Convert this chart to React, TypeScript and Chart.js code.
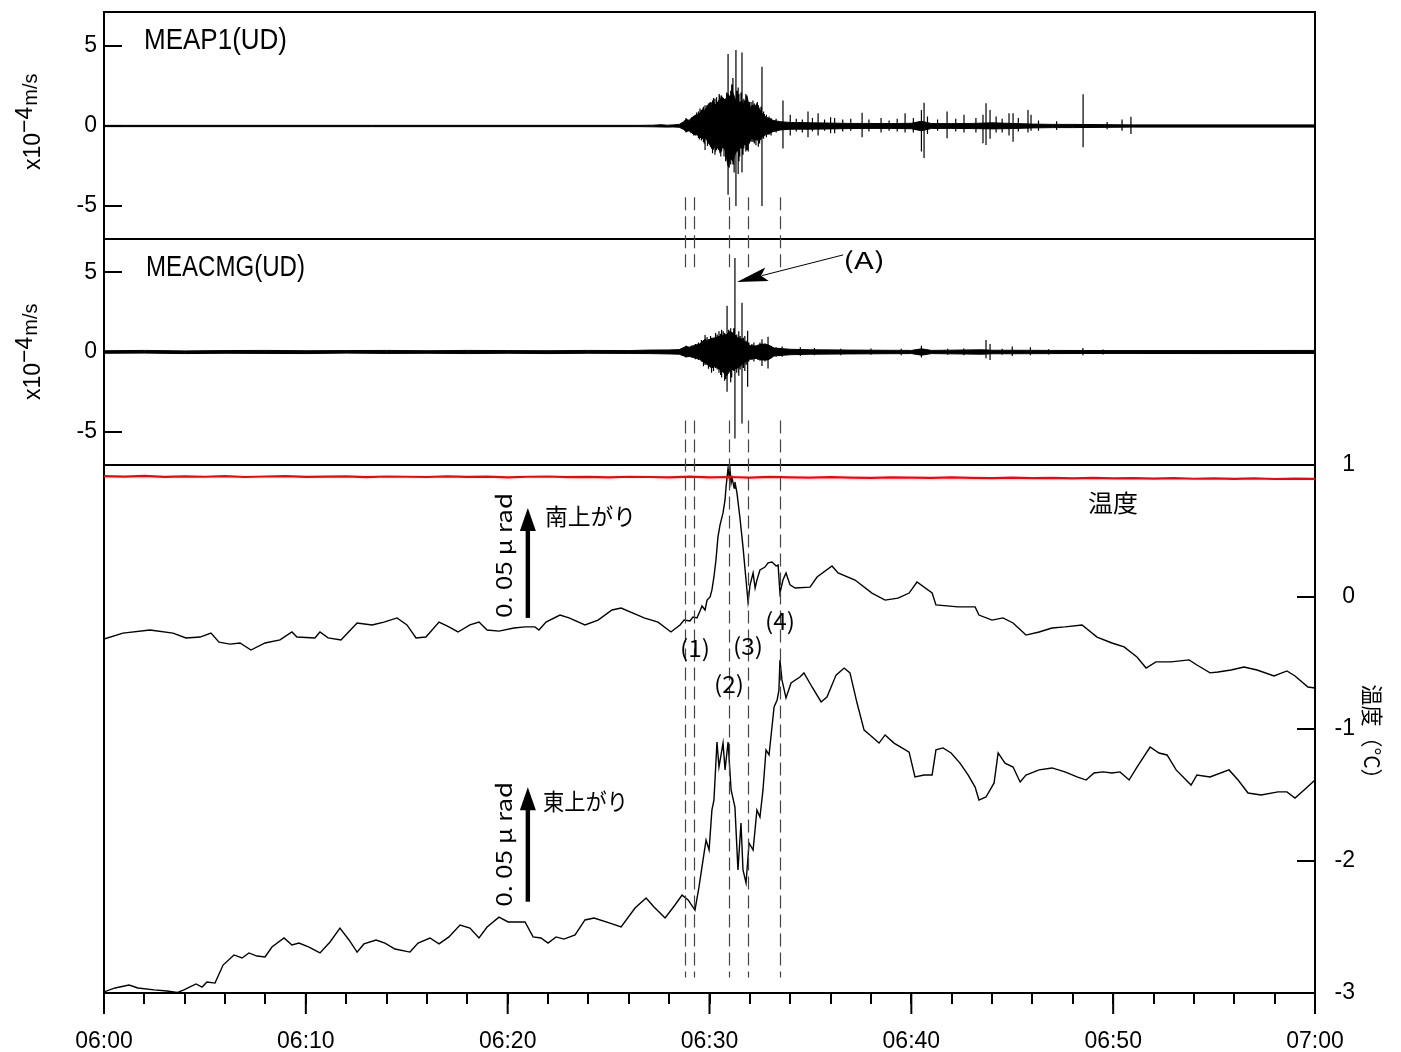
import React, { useEffect, useRef } from "react";
import { Chart, registerables } from "chart.js";

Chart.register(...registerables);

const W = 1401;
const H = 1052;

// ---------- axes ----------
const xTicks = [0, 2, 4, 6, 8, 10, 12, 14, 16, 18, 20, 22, 24, 26, 28, 30, 32, 34, 36, 38, 40, 42, 44, 46, 48, 50, 52, 54, 56, 58, 60];
const xMajor = [0, 10, 20, 30, 40, 50, 60];
const xMajorLabels = ["06:00", "06:10", "06:20", "06:30", "06:40", "06:50", "07:00"];
const seisTicks = [-5, 0, 5];
const tempTicks = [1, 0, -1, -2, -3];

// ---------- MEAP1(UD) : envelope [minute, max, min] (x10^-4 m/s) ----------
const s1Env: number[][] = [
  [0, 0.04, -0.04], [26.5, 0.04, -0.04], [27.2, 0.05, -0.05], [27.6, 0.08, -0.06], [27.9, 0.05, -0.07],
  [28.2, 0.07, -0.06], [28.5, 0.1, -0.08], [28.7, 0.25, -0.2], [28.84, 0.42, -0.35], [29.0, 0.35, -0.3],
  [29.19, 0.6, -0.5], [29.39, 0.69, -0.56], [29.53, 0.8, -0.7], [29.68, 1.1, -0.8], [29.8, 0.9, -0.7],
  [29.88, 1.3, -0.9], [30.03, 1.2, -1.2], [30.17, 1.6, -1.5], [30.27, 1.3, -1.2], [30.42, 1.5, -1.4],
  [30.52, 1.7, -1.6], [30.67, 1.75, -1.3], [30.77, 1.6, -1.5], [30.92, 2.0, -2.5], [31.01, 1.8, -2.0],
  [31.16, 2.1, -2.2], [31.26, 1.6, -1.8], [31.36, 1.8, -1.5], [31.51, 1.4, -1.2], [31.61, 1.6, -1.3],
  [31.76, 1.2, -1.0], [31.86, 1.8, -1.3], [32.01, 1.1, -0.9], [32.11, 1.3, -0.8], [32.25, 1.2, -0.9],
  [32.35, 1.4, -0.8], [32.5, 1.0, -0.9], [32.6, 0.8, -0.7], [32.75, 0.58, -0.56], [32.9, 0.5, -0.5],
  [33.0, 0.45, -0.45], [33.15, 0.35, -0.35], [33.5, 0.27, -0.25], [34.0, 0.22, -0.2], [35.0, 0.2, -0.2],
  [36.0, 0.18, -0.18], [37.0, 0.16, -0.16], [38.0, 0.16, -0.15], [39.0, 0.15, -0.15], [40.0, 0.17, -0.17],
  [40.5, 0.3, -0.3], [41.0, 0.15, -0.15], [42.0, 0.15, -0.15], [43.0, 0.16, -0.16], [44.0, 0.2, -0.18],
  [45.0, 0.16, -0.16], [46.0, 0.12, -0.12], [47.0, 0.1, -0.1], [48.0, 0.1, -0.1], [49.0, 0.09, -0.09],
  [50.0, 0.08, -0.08], [51.0, 0.07, -0.07], [55.0, 0.07, -0.07], [60.0, 0.07, -0.07],
];
// spikes [minute, top, bottom]
const s1Spikes: number[][] = [
  [28.84, 0.5, -0.4], [28.9, 0.3, -0.25], [29.05, 0.45, -0.4], [29.12, 0.55, -0.35], [29.22, 0.5, -0.6],
  [29.3, 0.7, -0.6], [29.36, 0.85, -0.5], [29.45, 0.9, -0.75], [29.5, 0.6, -0.85], [29.53, 1.1, -0.6],
  [29.6, 1.0, -0.9], [29.65, 0.95, -0.7], [29.7, 1.2, -1.0], [29.74, 0.8, -1.1], [29.78, 1.3, -1.5],
  [29.84, 1.1, -0.8], [29.9, 0.9, -1.25], [29.95, 1.4, -1.1], [30.0, 1.45, -0.9], [30.05, 1.5, -1.3],
  [30.1, 1.0, -1.4], [30.15, 1.2, -1.7], [30.2, 1.75, -1.2], [30.27, 1.7, -1.8], [30.3, 1.1, -1.6],
  [30.35, 1.8, -1.5], [30.4, 1.4, -1.1], [30.45, 1.6, -1.3], [30.48, 2.0, -1.4], [30.52, 1.9, -1.7],
  [30.56, 1.3, -1.9], [30.6, 1.9, -1.6], [30.65, 1.8, -1.2], [30.72, 1.7, -1.9], [30.8, 1.5, -2.2],
  [30.85, 2.1, -1.5], [30.92, 4.5, -4.3], [30.98, 1.7, -2.6], [31.05, 2.2, -2.4], [31.1, 2.6, -1.8],
  [31.16, 3.0, -2.4], [31.22, 1.9, -2.9], [31.31, 4.75, -5.0], [31.37, 2.2, -1.6], [31.42, 2.4, -3.0],
  [31.46, 2.0, -2.2], [31.5, 1.5, -1.9], [31.56, 2.1, -1.4], [31.61, 4.6, -2.9], [31.66, 1.4, -1.8],
  [31.7, 1.7, -1.4], [31.75, 1.6, -1.2], [31.8, 2.0, -1.6], [31.86, 1.9, -1.5], [31.92, 1.3, -1.6],
  [31.98, 1.5, -1.1], [32.02, 1.2, -0.9], [32.06, 1.5, -1.0], [32.15, 1.6, -1.0], [32.22, 1.4, -1.1],
  [32.3, 1.1, -1.2], [32.37, 1.5, -0.9], [32.42, 1.3, -1.3], [32.48, 1.0, -1.1], [32.55, 1.2, -0.8],
  [32.6, 3.7, -5.0], [32.68, 0.9, -0.8], [32.72, 0.75, -0.6], [32.82, 0.7, -0.7], [32.95, 0.6, -0.55],
  [33.05, 0.5, -0.6], [33.3, 0.45, -0.4], [33.64, 1.6, -1.4], [34.0, 0.7, -0.6], [34.3, 0.45, -0.35],
  [34.6, 0.4, -0.4], [34.88, 0.9, -0.7], [35.1, 0.5, -0.35], [35.38, 0.8, -0.6], [35.7, 0.4, -0.3],
  [36.0, 0.55, -0.45], [36.2, 0.5, -0.45], [36.6, 0.4, -0.35], [37.0, 0.45, -0.3], [37.56, 0.83, -0.7],
  [37.9, 0.4, -0.35], [38.5, 0.5, -0.4], [38.9, 0.35, -0.3], [39.3, 0.45, -0.35], [39.69, 0.8, -0.4],
  [40.1, 0.5, -0.4], [40.5, 1.0, -1.6], [40.63, 1.46, -2.0], [40.8, 0.6, -0.5], [41.3, 0.4, -0.3],
  [41.77, 0.9, -0.77], [42.2, 0.45, -0.35], [42.61, 0.7, -0.4], [43.2, 0.5, -0.4], [43.55, 0.7, -1.08],
  [43.7, 1.42, -1.19], [43.9, 1.0, -0.8], [44.2, 0.6, -0.4], [44.5, 0.45, -0.4], [44.84, 0.8, -0.6],
  [45.04, 0.8, -0.98], [45.3, 0.5, -0.35], [45.78, 1.0, -0.4], [45.93, 0.7, -0.3], [46.3, 0.35, -0.3],
  [47.2, 0.3, -0.25], [48.51, 1.98, -1.33], [49.7, 0.25, -0.2], [50.44, 0.4, -0.3], [50.88, 0.58, -0.5],
];

// ---------- MEACMG(UD) ----------
const s2Env: number[][] = [
  [0, 0.08, -0.08], [2, 0.1, -0.07], [4, 0.07, -0.1], [6, 0.09, -0.08], [8, 0.1, -0.09], [10, 0.08, -0.1],
  [12, 0.09, -0.07], [14, 0.1, -0.09], [16, 0.08, -0.08], [18, 0.1, -0.1], [20, 0.09, -0.08], [22, 0.08, -0.1],
  [24, 0.1, -0.08], [26, 0.09, -0.09], [27, 0.12, -0.1], [28, 0.13, -0.12], [28.5, 0.15, -0.14],
  [28.84, 0.35, -0.3], [29.0, 0.3, -0.28], [29.2, 0.4, -0.35], [29.5, 0.5, -0.45], [29.78, 0.8, -0.7],
  [29.9, 0.7, -0.8], [30.1, 0.85, -1.0], [30.3, 0.9, -0.9], [30.5, 1.0, -1.1], [30.7, 1.05, -1.3],
  [30.85, 1.1, -1.5], [31.0, 1.3, -1.2], [31.15, 1.2, -1.1], [31.4, 0.9, -1.0], [31.6, 0.8, -0.8],
  [31.8, 0.6, -0.6], [32.0, 0.4, -0.45], [32.3, 0.38, -0.4], [32.6, 0.5, -0.5], [32.9, 0.45, -0.5],
  [33.2, 0.25, -0.25], [34, 0.17, -0.17], [35, 0.14, -0.14], [37, 0.12, -0.12], [40, 0.1, -0.1],
  [40.5, 0.2, -0.2], [41, 0.1, -0.1], [43.5, 0.14, -0.14], [44, 0.11, -0.11], [45, 0.11, -0.11],
  [47, 0.1, -0.1], [50, 0.09, -0.09], [55, 0.09, -0.1], [60, 0.1, -0.09],
];
const s2Spikes: number[][] = [
  [28.84, 0.4, -0.35], [28.95, 0.3, -0.3], [29.1, 0.4, -0.3], [29.3, 0.5, -0.45], [29.45, 0.6, -0.5],
  [29.6, 0.75, -0.6], [29.7, 0.7, -0.9], [29.78, 1.07, -0.82], [29.88, 0.95, -0.75], [29.95, 0.8, -1.05],
  [30.05, 1.0, -0.9], [30.1, 0.9, -1.3], [30.2, 0.85, -1.2], [30.3, 1.2, -1.0], [30.38, 1.1, -1.1],
  [30.47, 1.3, -1.3], [30.55, 1.15, -1.45], [30.6, 1.4, -1.6], [30.68, 1.3, -1.2], [30.75, 1.2, -1.8],
  [30.8, 1.0, -1.7], [30.87, 2.9, -2.5], [30.95, 1.4, -1.3], [31.05, 1.5, -1.9], [31.1, 1.2, -1.6],
  [31.2, 1.5, -1.2], [31.26, 5.9, -5.43], [31.35, 1.1, -1.3], [31.45, 1.3, -1.5], [31.52, 1.0, -1.1],
  [31.61, 3.1, -4.5], [31.68, 0.9, -1.0], [31.75, 1.0, -1.2], [31.82, 0.7, -0.8], [31.89, 1.34, -2.18],
  [31.95, 0.6, -0.6], [32.1, 0.5, -0.5], [32.2, 0.6, -0.6], [32.4, 0.45, -0.5], [32.5, 0.6, -0.55],
  [32.6, 0.8, -0.88], [32.75, 0.55, -0.6], [32.9, 0.96, -1.03], [33.05, 0.4, -0.4], [33.3, 0.3, -0.3],
  [33.6, 0.35, -0.3], [34.5, 0.3, -0.25], [35.2, 0.25, -0.2], [36.5, 0.2, -0.2], [38.0, 0.22, -0.18],
  [39.5, 0.2, -0.2], [40.5, 0.4, -0.35], [41.8, 0.2, -0.18], [42.6, 0.22, -0.2], [43.7, 0.75, -0.4],
  [43.9, 0.5, -0.5], [44.5, 0.2, -0.18], [45.0, 0.35, -0.25], [45.9, 0.3, -0.2], [46.8, 0.18, -0.15],
  [48.5, 0.25, -0.2], [49.5, 0.15, -0.15],
];

// ---------- temperature (°C), one value per minute ----------
const tempV = [
  0.915, 0.912, 0.917, 0.910, 0.914, 0.911, 0.916, 0.909, 0.913, 0.915, 0.910, 0.912, 0.914, 0.908, 0.913,
  0.911, 0.909, 0.914, 0.910, 0.912, 0.907, 0.911, 0.913, 0.908, 0.910, 0.906, 0.911, 0.909, 0.907, 0.912,
  0.906, 0.909, 0.905, 0.910, 0.906, 0.904, 0.908, 0.905, 0.903, 0.907, 0.904, 0.902, 0.906, 0.903, 0.901,
  0.905, 0.900, 0.903, 0.899, 0.902, 0.898, 0.901, 0.897, 0.900, 0.896, 0.899, 0.895, 0.898, 0.894, 0.897,
  0.895,
];

// ---------- tilt (nrad, arbitrary offset) [minute, value] ----------
const tiltNS: number[][] = [
  [0, 160.9], [0.94, 163.6], [2.28, 165.0], [3.42, 163.6], [4.06, 161.4], [4.76, 161.8], [5.3, 163.6],
  [5.7, 159.5], [6.24, 158.6], [6.74, 159.1], [7.28, 155.9], [7.98, 159.1], [8.72, 160.5], [9.31, 164.1],
  [9.56, 161.8], [10.45, 161.4], [10.7, 164.1], [11.1, 161.4], [11.74, 160.5], [12.54, 168.2], [13.28, 167.3],
  [13.87, 168.6], [14.52, 170.5], [15.01, 167.3], [15.46, 161.4], [15.95, 161.8], [16.6, 168.6], [17.09, 166.4],
  [17.54, 164.1], [18.13, 167.3], [18.58, 168.6], [18.98, 165.0], [19.57, 164.5], [20.31, 165.9], [20.86, 166.4],
  [21.35, 166.4], [21.55, 165.0], [21.9, 168.6], [22.59, 171.8], [23.04, 170.5], [23.83, 167.3], [24.48, 169.5],
  [25.17, 174.1], [25.62, 175.0], [26.21, 172.7], [26.76, 170.5], [27.45, 168.6], [28.09, 164.1], [28.54, 167.3],
  [28.74, 169.5], [29.03, 169.1], [29.18, 170.9], [29.38, 170.5], [29.53, 173.6], [29.63, 175.9], [29.78, 174.1],
  [29.88, 178.6], [30.03, 180.0], [30.12, 183.2], [30.22, 189.1], [30.32, 196.8], [30.42, 207.3], [30.52, 212.7],
  [30.67, 218.2], [30.77, 224.1], [30.82, 230.0], [30.92, 238.6], [30.97, 235.0], [31.02, 237.7], [31.07, 231.8],
  [31.12, 234.1], [31.22, 229.5], [31.26, 232.3], [31.36, 227.3], [31.51, 215.9], [31.66, 202.7], [31.81, 187.7],
  [31.91, 177.7], [32.01, 185.5], [32.16, 190.9], [32.26, 184.1], [32.35, 187.7], [32.5, 192.3], [32.75, 193.6],
  [32.9, 195.5], [33.1, 195.9], [33.3, 194.1], [33.4, 194.5], [33.49, 181.8], [33.64, 187.7], [33.79, 190.9],
  [33.99, 185.5], [34.24, 184.1], [34.98, 184.5], [35.33, 189.1], [36.07, 194.1], [36.37, 190.9], [37.21, 187.7],
  [38.05, 181.8], [38.7, 178.6], [39.34, 179.5], [39.89, 181.8], [40.28, 186.8], [41.03, 181.8], [41.22, 176.4],
  [42.31, 175.5], [43.16, 175.5], [43.35, 171.8], [44.0, 169.5], [44.54, 170.5], [45.04, 168.2], [45.68, 162.7],
  [46.33, 164.1], [46.97, 165.9], [47.61, 166.4], [48.46, 167.3], [49.2, 161.8], [49.94, 159.1], [50.54, 157.3],
  [51.18, 152.7], [51.63, 147.7], [52.12, 150.5], [52.87, 150.5], [53.76, 151.4], [54.15, 149.1], [54.8, 145.5],
  [55.2, 145.9], [55.84, 146.8], [56.48, 148.2], [57.13, 146.8], [57.97, 144.1], [58.61, 146.4], [59.01, 144.1],
  [59.65, 139.1], [60, 138.6],
];
const tiltEW: number[][] = [
  [0, 0.5], [0.55, 2.3], [1.24, 3.6], [1.68, 2.3], [2.48, 1.4], [3.12, 0.9], [3.62, 0.2], [3.96, 1.4],
  [4.56, 4.1], [4.86, 2.7], [5.1, 5.0], [5.5, 4.5], [5.9, 12.7], [6.44, 17.3], [6.84, 15.9], [7.18, 18.2],
  [7.58, 16.8], [7.98, 16.4], [8.32, 20.9], [8.92, 25.0], [9.31, 21.8], [9.66, 22.7], [10.16, 20.9],
  [10.7, 18.2], [11.2, 23.2], [11.69, 29.5], [12.14, 24.1], [12.54, 18.6], [12.88, 22.3], [13.48, 24.1],
  [13.92, 22.7], [14.42, 20.0], [15.16, 18.6], [15.56, 22.7], [16.15, 25.0], [16.6, 22.3], [17.09, 25.5],
  [17.64, 30.9], [18.13, 29.5], [18.58, 25.0], [18.98, 30.0], [19.57, 34.5], [20.02, 32.3], [20.86, 32.3],
  [21.26, 25.5], [21.65, 25.0], [22.0, 22.7], [22.4, 25.5], [22.79, 24.5], [23.34, 26.4], [23.83, 33.2],
  [24.28, 34.1], [25.07, 31.8], [25.62, 30.0], [26.31, 38.6], [26.86, 43.2], [27.25, 39.1], [27.8, 34.1],
  [28.29, 40.0], [28.64, 44.5], [28.94, 42.3], [29.28, 37.7], [29.48, 48.2], [29.68, 60.5], [29.83, 69.5],
  [29.98, 65.0], [30.12, 83.2], [30.22, 87.7], [30.37, 114.1], [30.47, 102.7], [30.67, 113.6], [30.77, 101.4],
  [30.92, 114.1], [31.07, 92.3], [31.26, 84.5], [31.41, 55.9], [31.56, 77.3], [31.66, 55.9], [31.81, 50.0],
  [31.96, 68.2], [32.16, 65.0], [32.35, 83.2], [32.5, 80.0], [32.65, 92.3], [32.8, 110.5], [32.95, 108.2],
  [33.2, 130.0], [33.35, 133.2], [33.44, 137.7], [33.49, 151.4], [33.59, 142.3], [33.79, 134.1], [34.04, 140.9],
  [34.48, 143.6], [34.68, 145.5], [35.08, 139.1], [35.53, 132.3], [35.82, 134.5], [36.27, 144.5], [36.67, 147.7],
  [36.96, 145.5], [37.31, 131.8], [37.66, 119.5], [37.95, 117.3], [38.4, 113.6], [38.7, 117.3], [39.14, 113.6],
  [39.54, 111.4], [39.89, 109.5], [40.18, 98.2], [40.63, 99.1], [41.03, 99.1], [41.22, 110.5], [41.57, 111.4],
  [41.97, 109.1], [42.41, 104.5], [42.81, 99.1], [43.16, 93.6], [43.35, 87.7], [43.7, 89.1], [44.1, 95.5],
  [44.3, 109.1], [44.64, 104.5], [45.04, 102.7], [45.39, 95.9], [45.68, 99.1], [46.33, 101.4], [46.97, 102.3],
  [47.61, 100.5], [48.21, 98.2], [48.66, 96.8], [49.05, 100.0], [49.5, 100.5], [49.94, 100.0], [50.34, 100.5],
  [50.79, 96.8], [51.18, 102.7], [51.83, 111.8], [52.27, 109.1], [52.67, 108.2], [53.12, 101.4], [53.86, 94.5],
  [54.15, 99.1], [54.8, 98.2], [55.74, 101.4], [56.19, 96.8], [56.68, 90.9], [57.33, 90.0], [58.17, 91.4],
  [58.61, 91.4], [59.01, 88.6], [59.46, 92.3], [60, 96.8],
];

// ---------- annotations (data units) ----------
const dashTimes = [28.79, 29.23, 30.97, 31.91, 33.49];
const eventLabels = ["(1)", "(2)", "(3)", "(4)"];
const eventLabelT = [29.28, 30.97, 31.91, 33.49];
const eventLabelV = [156.8, 140.5, 157.7, 169.1]; // tilt units (label centres)
const scaleBarT = 21.0;
const scaleBarNS = [170.5, 220.5]; // 0.05 μrad = 50 nrad
const scaleBarEW = [41.5, 93.5];

const LAT = '"Liberation Sans", Arial, Helvetica, sans-serif';
const JP = '"Noto Sans CJK JP", "Noto Sans", sans-serif';

function drawText(ctx: CanvasRenderingContext2D, str: string, x: number, y: number, o: any) {
  ctx.save();
  ctx.font = o.font;
  ctx.fillStyle = o.color || "#000";
  ctx.textAlign = o.align || "left";
  ctx.textBaseline = o.baseline || "middle";
  ctx.translate(x, y);
  if (o.rot) ctx.rotate(o.rot);
  if (o.width) {
    const w = ctx.measureText(str).width;
    if (w > 0) ctx.scale(o.width / w, 1);
  }
  ctx.fillText(str, 0, 0);
  ctx.restore();
}

function drawUnit(ctx: CanvasRenderingContext2D, x: number, y: number) {
  ctx.save();
  ctx.translate(x, y);
  ctx.rotate(-Math.PI / 2);
  ctx.fillStyle = "#000";
  ctx.textAlign = "left";
  ctx.textBaseline = "alphabetic";
  ctx.font = `23px ${LAT}`;
  ctx.fillText("x10", 0, 0);
  let u = ctx.measureText("x10").width;
  ctx.fillText("\u22124", u, -8);
  u += ctx.measureText("\u22124").width;
  ctx.font = `20px ${LAT}`;
  ctx.fillText("m/s", u + 1, -3);
  ctx.restore();
}

function upArrow(ctx: CanvasRenderingContext2D, x: number, yBase: number, yTip: number) {
  const headLen = 23, headHalf = 8, shaft = 2.2;
  ctx.fillStyle = "#000";
  ctx.fillRect(x - shaft, yTip + headLen - 1, shaft * 2, yBase - yTip - headLen + 1);
  ctx.beginPath();
  ctx.moveTo(x, yTip);
  ctx.lineTo(x + headHalf, yTip + headLen);
  ctx.lineTo(x - headHalf, yTip + headLen);
  ctx.closePath();
  ctx.fill();
}

const overlay = {
  id: "overlay",
  afterDraw(chart: any) {
    const ctx: CanvasRenderingContext2D = chart.ctx;
    const a = chart.chartArea;
    const sx = chart.scales.x, s1 = chart.scales.yS1, s2 = chart.scales.yS2, st = chart.scales.yTilt;
    ctx.save();
    ctx.strokeStyle = "#000";
    ctx.lineWidth = 2;
    const line = (x1: number, y1: number, x2: number, y2: number) => {
      ctx.beginPath(); ctx.moveTo(x1, y1); ctx.lineTo(x2, y2); ctx.stroke();
    };
    line(a.left - 1, a.top, a.right + 1, a.top);
    line(a.left, s1.bottom, a.right, s1.bottom);
    line(a.left, s2.bottom, a.right, s2.bottom);
    // major x ticks longer
    xMajor.forEach((v) => {
      const px = sx.getPixelForValue(v);
      line(px, a.bottom, px, a.bottom + 21);
    });

    // dashed event lines
    ctx.strokeStyle = "#444";
    ctx.lineWidth = 1.2;
    ctx.setLineDash([13, 6]);
    dashTimes.forEach((t) => {
      const px = Math.round(sx.getPixelForValue(t)) + 0.5;
      line(px, s1.getPixelForValue(-4.45), px, s2.getPixelForValue(5.3));
      line(px, s2.getPixelForValue(-4.3), px, st.getPixelForValue(7));
    });
    ctx.setLineDash([]);

    // arrow (A)
    const tipX = sx.getPixelForValue(31.36), tipY = s2.getPixelForValue(4.4);
    const tailX = sx.getPixelForValue(36.62), tailY = s2.getPixelForValue(6.1);
    const dx = tailX - tipX, dy = tailY - tipY, L = Math.hypot(dx, dy);
    const ux = dx / L, uy = dy / L, nx = -uy, ny = ux;
    ctx.strokeStyle = "#000";
    ctx.lineWidth = 1;
    line(tipX + ux * 26, tipY + uy * 26, tailX, tailY);
    ctx.fillStyle = "#000";
    ctx.beginPath();
    ctx.moveTo(tipX, tipY);
    ctx.lineTo(tipX + ux * 31 + nx * 7, tipY + uy * 31 + ny * 7);
    ctx.lineTo(tipX + ux * 25, tipY + uy * 25);
    ctx.lineTo(tipX + ux * 31 - nx * 7, tipY + uy * 31 - ny * 7);
    ctx.closePath();
    ctx.fill();
    drawText(ctx, "(A)", 843, 260, { font: `23px ${JP}`, width: 42 });

    // titles
    drawText(ctx, "MEAP1(UD)", 144, 41, { font: `29px ${LAT}`, width: 143 });
    drawText(ctx, "MEACMG(UD)", 146, 268, { font: `29px ${LAT}`, width: 159 });
    drawUnit(ctx, 40, 170);
    drawUnit(ctx, 40, 400);

    // event labels
    eventLabels.forEach((s, i) => {
      drawText(ctx, s, sx.getPixelForValue(eventLabelT[i]), st.getPixelForValue(eventLabelV[i]), {
        font: `23px ${JP}`, align: "center", width: 30,
      });
    });

    // scale bars
    const bx = sx.getPixelForValue(scaleBarT);
    upArrow(ctx, bx, st.getPixelForValue(scaleBarNS[0]), st.getPixelForValue(scaleBarNS[1]));
    upArrow(ctx, bx, st.getPixelForValue(scaleBarEW[0]), st.getPixelForValue(scaleBarEW[1]));
    const b1 = st.getPixelForValue(scaleBarNS[0]);
    const b2 = st.getPixelForValue(scaleBarEW[0]);
    drawText(ctx, "0. 05 \u03bc rad", bx - 16, b1, { font: `22px ${JP}`, rot: -Math.PI / 2, baseline: "alphabetic", width: 125 });
    drawText(ctx, "0. 05 \u03bc rad", bx - 16, b2 + 5, { font: `22px ${JP}`, rot: -Math.PI / 2, baseline: "alphabetic", width: 125 });
    drawText(ctx, "南上がり", 545, 516, { font: `23px ${JP}`, width: 91 });
    drawText(ctx, "東上がり", 543, 801, { font: `23px ${JP}`, width: 85 });
    drawText(ctx, "温度", 1088, 503, { font: `24px ${JP}`, width: 50 });
    drawText(ctx, "温度（°C）", 1372, 737, { font: `22px ${JP}`, rot: Math.PI / 2, align: "center", width: 105 });
    ctx.restore();
  },
};

const blk = "#000";
const base = { pointRadius: 0, pointHoverRadius: 0, tension: 0, borderColor: blk, spanGaps: false };
const hiOf = (env: number[][]) => env.map((r) => ({ x: r[0], y: r[1] }));
const loOf = (env: number[][]) => env.map((r) => ({ x: r[0], y: r[2] }));
const spikesOf = (sp: number[][]) =>
  sp.flatMap((r) => [{ x: r[0], y: r[1] }, { x: r[0], y: r[2] }, { x: r[0], y: null as any }]);

const noPad = (s: any) => {
  s.paddingTop = 0;
  s.paddingBottom = 0;
  s.paddingLeft = 0;
  s.paddingRight = 0;
};

const seisAxis = (min: number, max: number, weight: number, stackWeight: number) => ({
  type: "linear",
  position: "left",
  stack: "L",
  stackWeight,
  weight,
  min,
  max,
  afterBuildTicks: (s: any) => { s.ticks = seisTicks.map((v) => ({ value: v })); },
  afterFit: (s: any) => { s.width = 104; noPad(s); },
  ticks: { font: { family: LAT, size: 23 }, color: blk, padding: 25, callback: (v: any) => String(v) },
  grid: { drawOnChartArea: false, drawTicks: true, tickLength: -18, color: blk, lineWidth: 2 },
  border: { display: true, color: blk, width: 2 },
});

const dummyRight = (weight: number, stackWeight: number) => ({
  type: "linear",
  position: "right",
  stack: "R",
  stackWeight,
  weight,
  min: 0,
  max: 1,
  afterFit: (s: any) => { s.width = 40; noPad(s); },
  ticks: { display: false },
  grid: { drawOnChartArea: false, drawTicks: false },
  border: { display: true, color: blk, width: 2 },
});

export default function App() {
  const ref = useRef<HTMLCanvasElement>(null);
  useEffect(() => {
    const canvas = ref.current!;
    const chart = new Chart(canvas, {
      type: "line",
      data: {
        datasets: [
          { ...base, label: "s1hi", yAxisID: "yS1", data: hiOf(s1Env), borderWidth: 1, fill: "+1", backgroundColor: blk },
          { ...base, label: "s1lo", yAxisID: "yS1", data: loOf(s1Env), borderWidth: 1, fill: false },
          { ...base, label: "s1sp", yAxisID: "yS1", data: spikesOf(s1Spikes), borderWidth: 1.2, fill: false },
          { ...base, label: "s2hi", yAxisID: "yS2", data: hiOf(s2Env), borderWidth: 1, fill: "+1", backgroundColor: blk },
          { ...base, label: "s2lo", yAxisID: "yS2", data: loOf(s2Env), borderWidth: 1, fill: false },
          { ...base, label: "s2sp", yAxisID: "yS2", data: spikesOf(s2Spikes), borderWidth: 1.2, fill: false },
          { ...base, label: "temp", yAxisID: "yT", borderColor: "#ff0000", borderWidth: 2.2, fill: false,
            data: tempV.map((v, i) => ({ x: i, y: v })) },
          { ...base, label: "NS", yAxisID: "yTilt", borderWidth: 1.4, fill: false,
            data: tiltNS.map((r) => ({ x: r[0], y: r[1] })) },
          { ...base, label: "EW", yAxisID: "yTilt", borderWidth: 1.4, fill: false,
            data: tiltEW.map((r) => ({ x: r[0], y: r[1] })) },
        ] as any,
      },
      options: {
        animation: false,
        responsive: false,
        devicePixelRatio: 1,
        events: [],
        layout: { padding: { top: 12, left: 0, right: 46, bottom: 0 } },
        plugins: { legend: { display: false }, tooltip: { enabled: false } },
        scales: {
          x: {
            type: "linear",
            position: "bottom",
            min: 0,
            max: 60,
            afterBuildTicks: (s: any) => { s.ticks = xTicks.map((v) => ({ value: v })); },
            afterFit: (s: any) => { s.height = 59; noPad(s); },
            ticks: {
              autoSkip: false,
              maxRotation: 0,
              font: { family: LAT, size: 23 },
              color: blk,
              padding: 24,
              callback: (v: any) => {
                const k = xMajor.indexOf(Number(v));
                return k >= 0 ? xMajorLabels[k] : "";
              },
            },
            grid: { drawOnChartArea: false, drawTicks: true, tickLength: 11, color: blk, lineWidth: 2 },
            border: { display: true, color: blk, width: 2 },
          },
          yS1: seisAxis(-7.0625, 7.125, 3, 227),
          yS2: seisAxis(-7.1, 7.1, 2, 226),
          yTilt: {
            type: "linear",
            position: "left",
            stack: "L",
            stackWeight: 528,
            weight: 1,
            min: 0,
            max: 240,
            afterFit: (s: any) => { s.width = 104; noPad(s); },
            ticks: { display: false },
            grid: { drawOnChartArea: false, drawTicks: false },
            border: { display: true, color: blk, width: 2 },
          },
          yR1: dummyRight(1, 227),
          yR2: dummyRight(2, 226),
          yT: {
            type: "linear",
            position: "right",
            stack: "R",
            stackWeight: 528,
            weight: 3,
            min: -3,
            max: 1,
            afterBuildTicks: (s: any) => { s.ticks = tempTicks.map((v) => ({ value: v })); },
            afterFit: (s: any) => { s.width = 40; noPad(s); },
            ticks: {
              font: { family: LAT, size: 23 },
              color: blk,
              padding: 8,
              crossAlign: "far",
              callback: (v: any) => String(v),
            },
            grid: { drawOnChartArea: false, drawTicks: true, tickLength: -18, color: blk, lineWidth: 2 },
            border: { display: true, color: blk, width: 2 },
          },
        } as any,
      },
      plugins: [overlay],
    });
    return () => chart.destroy();
  }, []);
  return (
    <div style={{ position: "fixed", left: 0, top: 0, width: W, height: H, background: "#fff" }}>
      <canvas ref={ref} width={W} height={H} style={{ width: W, height: H, display: "block" }} />
    </div>
  );
}
